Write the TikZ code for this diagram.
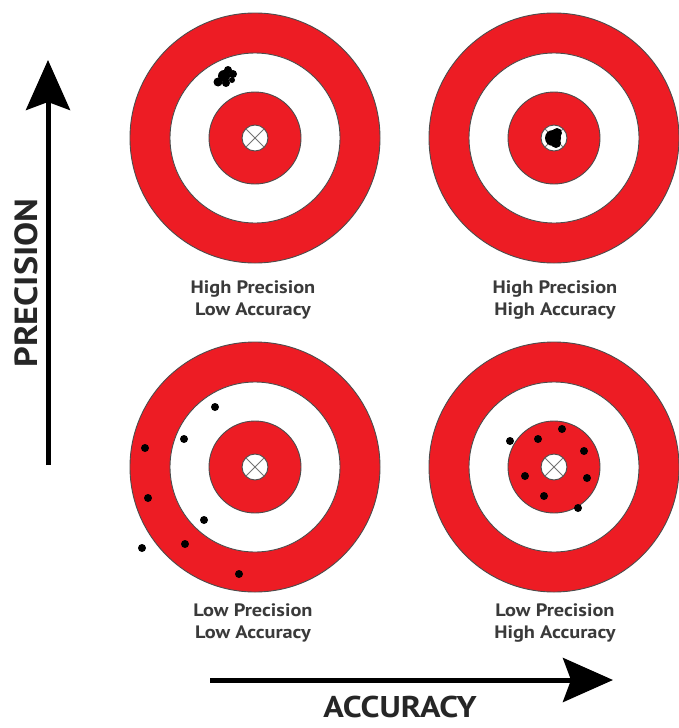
\documentclass[tikz,border=0pt]{standalone}
\usepackage{fontspec}
\setmainfont{PT Sans}
\newfontfamily\widesans[FakeStretch=1.13]{PT Sans}
\usetikzlibrary{arrows.meta}
\definecolor{targetred}{RGB}{237,28,36}
\definecolor{labelgray}{RGB}{58,58,58}
\def\target(#1,#2){\draw[ring] (#1,#2) circle (125);
	\draw[ring,fill=white] (#1,#2) circle (85);
	\draw[ring] (#1,#2) circle (46);
	\draw[mark ring] (#1,#2) circle (13);
	\draw[black!55,line width=0.8pt] (#1-9,#2-9) -- (#1+9,#2+9) (#1-9,#2+9) -- (#1+9,#2-9);}

\begin{document}
\begin{tikzpicture}[x=1pt,y=-1pt,
	ring/.style={fill=targetred,draw=black!70,line width=0.9pt},
	mark ring/.style={fill=white,draw=black!70,line width=0.9pt},
	caption/.style={align=center,font=\widesans\bfseries\fontsize{18}{22}\selectfont,text=labelgray},
	axis/.style={line width=5pt,-{Stealth[length=50pt,width=44pt,inset=8pt]}},
	axis label/.style={inner sep=1pt,font=\widesans\bfseries\fontsize{32}{34}\selectfont,text=black!85}]
	%%%%% START %%%%%
	\useasboundingbox (0,0) rectangle (679,728);
	
	% targets
	\target(255,138)
	\target(554,138)
	\target(255,467)
	\target(554,467)
	
	% high precision, low accuracy
	\fill (228,70) circle (4);
	\fill (233,74) circle (4);
	\fill (224,76) circle (6);
	\fill (218,82) circle (4.5);
	\fill (226,83) circle (4);
	\fill (232,80) circle (3);
	
	% high precision, high accuracy
	\fill (553,138) circle (8);
	\fill (557,133) circle (5);
	\fill (556,143) circle (5);
	
	% low precision, low accuracy
	\foreach \x/\y in {215/407, 184/439, 145/448, 148/498, 204/520, 185/544, 142/548, 239/574}
		\fill (\x,\y) circle (4);
	
	% low precision, high accuracy
	\foreach \x/\y in {510/441, 538/439, 562/429, 584/451, 525/476, 587/478, 544/496, 578/508}
		\fill (\x,\y) circle (4);
	
	% captions
	\node[caption] (hplA) at (253,300) {High Precision\\Low Accuracy};
	\node[caption] (hphA) at (555,300) {High Precision\\High Accuracy};
	\node[caption] (lplA) at (253,623) {Low Precision\\Low Accuracy};
	\node[caption] (lphA) at (555,623) {Low Precision\\High Accuracy};
	
	% axes
	\coordinate (pbot) at (48,465);
	\coordinate (ptop) at (48,60);
	\draw[axis] (pbot) -- (ptop);
	\node[axis label,rotate=90] (prec) at (26,283) {PRECISION};
	
	\coordinate (aleft) at (210,680);
	\coordinate (aright) at (613,680);
	\draw[axis] (aleft) -- (aright);
	\node[axis label,font=\widesans\bfseries\fontsize{30}{32}\selectfont] (acc) at (400,707) {ACCURACY};
	%%%%% END %%%%%
\end{tikzpicture}
\end{document}
